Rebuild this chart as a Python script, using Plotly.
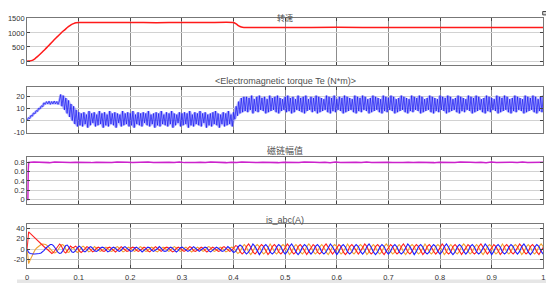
import numpy as np
import plotly.graph_objects as go

# ---------------- data ----------------
# Panel 1: speed (rpm)
speed_t = [0, 0.005, 0.01, 0.015, 0.02, 0.025, 0.03, 0.035, 0.04, 0.045, 0.05, 0.055,
           0.06, 0.065, 0.07, 0.075, 0.08, 0.085, 0.09, 0.095, 0.1, 0.15, 0.2, 0.25,
           0.3, 0.35, 0.4, 0.405, 0.41, 0.415, 0.42, 0.5, 0.6, 0.7, 0.8, 0.9, 1.0]
speed_v = [0, 5, 25, 80, 155, 240, 330, 420, 515, 610, 705, 800,
           890, 980, 1065, 1145, 1220, 1285, 1330, 1358, 1366, 1365, 1368, 1364,
           1367, 1365, 1365, 1320, 1250, 1210, 1195, 1193, 1196, 1194, 1193, 1195, 1194]

# Panel 2: electromagnetic torque (N*m), samples every 0.0025 s
torque_start = [0, 2.5, 1.5, 4.5, 3.5, 6.5, 5.5, 8.5, 7.5, 10.5, 9.5, 12.5, 11.5, 15, 13.5,
                16, 14, 16.5, 13.5, 16, 14, 16.5, 14, 16, 13.5, 16.5,
                22, 12, 21, 9, 19, 6, 17, 3, 14, 0, 12, -3, 9, -5, 7]
torque_mid = [-4, 6, -5, 7, -3, 5, -6, 8, -4, 6, -2, 7, -5, 5, -4, 8, -3, 6, -6, 7,
              -4, 5, -5, 8, -3, 6, -4, 7, -6, 6, -2, 5, -5, 8, -4, 6, -3, 7, -5, 6,
              -4, 8, -6, 5, -3, 7, -4, 6, -5, 7, -2, 6, -4, 8, -5, 5, -3, 6, -6, 7,
              -4, 6, -5, 8, -3, 5, -4, 7, -5, 6, -3, 8, -6, 6, -4, 5, -2, 7, -5, 6,
              -4, 7, -3, 6, -6, 8, -4, 5, -5, 7, -3, 6, -4, 8, -5, 6, -2, 7, -6, 5,
              -4, 6, -5, 7, -3, 8, -4, 6, -6, 5, -3, 7, -5, 6, -4, 8, -3, 5, -5, 7]
torque_rise = [1, 12, 4, 16, 6, 19, 7, 20]
torque_end = [8, 20, 7, 19, 9, 21, 6, 18, 8, 20, 7, 21, 9, 19, 8, 20, 6, 18, 7, 21,
              8, 19, 9, 20, 7, 21, 6, 19, 8, 18, 9, 20, 7, 21, 8, 19, 6, 20, 7, 18,
              9, 21, 8, 19, 7, 20, 6, 21, 8, 18, 9, 20, 7, 19, 8, 21, 6, 20, 7, 19,
              8, 18, 9, 21, 7, 20, 6, 19, 8, 21, 7, 18, 9, 20, 8, 19, 6, 21, 7, 20,
              8, 19, 9, 18, 7, 21, 6, 20, 8, 19, 7, 21, 9, 20, 8, 18, 6, 19, 7, 21,
              8, 20, 9, 19, 7, 18, 6, 21, 8, 20, 7, 19, 9, 21, 8, 20, 6, 18, 7, 19,
              8, 21, 9, 20, 7, 19, 6, 18, 8, 21, 7, 20, 9, 19, 8, 21, 6, 20, 7, 18,
              8, 19, 9, 21, 7, 20, 6, 19, 8, 18, 7, 21, 9, 20, 8, 19, 6, 21, 7, 20,
              8, 18, 9, 19, 7, 21, 6, 20, 8, 19, 7, 18, 9, 21, 8, 20, 6, 19, 7, 21,
              8, 20, 9, 18, 7, 19, 6, 21, 8, 20, 7, 19, 9, 18, 8, 21, 6, 20, 7, 19,
              8, 21, 9, 20, 7, 18, 6, 19, 8, 21, 7, 20, 9, 19, 8, 18, 6, 21, 7, 20,
              8, 19, 9, 21, 7, 20, 6, 18, 8, 20, 7, 21]

# Panel 3: flux magnitude (Wb)
flux_t_start = [0, 0.0015, 0.0022]
flux_v_start = [0, 0, 0.62]
flux_steady = [0.800, 0.806, 0.797, 0.804, 0.795, 0.806, 0.799, 0.805, 0.796, 0.803,
               0.798, 0.806, 0.795, 0.804, 0.799, 0.805, 0.796, 0.806, 0.797, 0.803,
               0.799, 0.805, 0.795, 0.806, 0.798, 0.804, 0.796, 0.805, 0.797, 0.806,
               0.795, 0.804, 0.799, 0.805, 0.796, 0.806, 0.798, 0.803, 0.795, 0.805,
               0.797, 0.806, 0.799, 0.804, 0.796, 0.805, 0.798, 0.806, 0.795, 0.804,
               0.799, 0.805, 0.796, 0.806, 0.797, 0.803, 0.798, 0.805, 0.795, 0.806,
               0.797, 0.804, 0.799, 0.805, 0.796, 0.806, 0.798, 0.803, 0.795, 0.805,
               0.797, 0.806, 0.799, 0.804, 0.796, 0.805, 0.798, 0.806, 0.795, 0.804,
               0.799, 0.805, 0.796, 0.806, 0.797, 0.803, 0.798, 0.805, 0.795, 0.806,
               0.797, 0.804, 0.799, 0.805, 0.796, 0.806, 0.798, 0.803, 0.795, 0.805]

# Panel 4: stator currents (A)
# start-up transient, samples every 0.003 s from 0
ia_transient = [0, 33, 30, 27, 24, 21, 18, 15, 12, 9, 6, 4, 2, 0, -3, -6, -8, -6, -2, 3,
                8, 10, 7, 1, -5, -7, -3, 3, 6, 4]
ib_transient = [0, -6, -8, -9, -9, -9, -9, -9, -8, -7, -5, -2, 2, 5, 8, 9, 9, 7, 3, -2,
                -6, -8, -7, -3, 2, 7, 8, 4, -2, -5]
ic_transient = [0, -27, -20, -13, -7, -2, 2, 5, 7, 9, 10, 10, 9, 7, 4, 0, -4, -6, -7, -5,
                -1, 4, 8, 9, 6, 0, -5, -6, -2, 3]
# 0.09 s .. 0.40 s (light load)
ia_light = [3, 6, 3, -3, -6, -3, 2, 5, 3, -2, -5, -3, 2, 4, 2, -3, -4, -2, 3, 4, 1, -2, -5, -2,
            2, 5, 2, -2, -4, -3, 2, 4, 3, -2, -4, -2, 1, 4, 2, -3, -5, -2, 2, 5, 2, -2, -4, -1,
            3, 4, 2, -2, -5, -3, 2, 4, 1, -2, -4, -2, 2, 5, 3, -3, -4, -2, 1, 4, 2, -2, -5, -2,
            2, 4, 2, -2, -4, -3, 3, 5, 2, -2, -4, -2]
ib_light = [-6, -3, 3, 6, 3, -3, -5, -2, 3, 5, 2, -3, -4, -2, 2, 4, 3, -2, -5, -3, 2, 4, 2, -2,
            -4, -2, 3, 5, 2, -2, -4, -3, 2, 4, 2, -1, -5, -2, 2, 4, 3, -2, -4, -2, 1, 5, 2, -3,
            -4, -3, 2, 4, 2, -2, -5, -2, 3, 4, 1, -2, -4, -2, 2, 5, 2, -2, -4, -1, 2, 4, 3, -3,
            -5, -2, 2, 4, 2, -2, -4, -3, 2, 5, 2, -2]
ic_light = [3, -3, -6, -3, 3, 6, 3, -2, -5, -3, 2, 5, 2, -2, -4, -2, 2, 4, 2, -3, -4, -2, 3, 5,
            2, -2, -5, -3, 2, 4, 1, -2, -4, -2, 2, 5, 3, -2, -4, -3, 2, 4, 2, -3, -5, -2, 2, 4,
            2, -2, -4, -2, 3, 5, 2, -2, -4, -3, 2, 4, 1, -3, -5, -2, 2, 4, 2, -2, -4, -2, 3, 5,
            3, -2, -4, -2, 2, 4, 2, -2, -5, -3, 2, 4]
# 0.40 s .. 1.0 s (loaded)
ia_load = [3, 7, 5, -4, -9, -5, 5, 10, 4, -5, -9, -4, 4, 9, 5, -4, -10, -5, 5, 9, 4, -5, -9, -4,
           4, 10, 5, -4, -9, -5, 5, 9, 4, -4, -10, -4, 4, 9, 5, -5, -9, -5, 5, 10, 4, -4, -9, -4,
           4, 9, 5, -5, -10, -5, 5, 9, 4, -4, -9, -4, 4, 10, 5, -4, -9, -5, 5, 9, 4, -5, -10, -4,
           4, 9, 5, -4, -9, -5, 5, 10, 4, -5, -9, -4, 4, 9, 5, -4, -10, -5, 5, 9, 4, -4, -9, -4,
           4, 10, 5, -5, -9, -5, 5, 9, 4, -4, -10, -4, 4, 9, 5, -5, -9, -5, 5, 10, 4, -4, -9, -4,
           4, 9, 5, -4, -10, -5, 5, 9, 4, -5, -9, -4, 4, 10, 5, -4, -9, -5, 5, 9, 4, -5, -10, -4,
           4]
ib_load = [-6, -4, 4, 8, 5, -4, -9, -5, 4, 10, 5, -4, -10, -4, 5, 9, 4, -5, -9, -5, 4, 9, 5, -4,
           -9, -4, 5, 10, 4, -5, -10, -5, 4, 9, 5, -4, -9, -4, 5, 9, 4, -5, -9, -5, 4, 10, 5, -4,
           -10, -4, 5, 9, 4, -5, -9, -5, 4, 9, 5, -4, -9, -4, 5, 10, 4, -5, -10, -5, 4, 9, 5, -4,
           -9, -4, 5, 9, 4, -5, -9, -5, 4, 10, 5, -4, -10, -4, 5, 9, 4, -5, -9, -5, 4, 9, 5, -4,
           -9, -4, 5, 10, 4, -5, -10, -5, 4, 9, 5, -4, -9, -4, 5, 9, 4, -5, -9, -5, 4, 10, 5, -4,
           -10, -4, 5, 9, 4, -5, -9, -5, 4, 9, 5, -4, -9, -4, 5, 10, 4, -5, -10, -5, 4, 9, 5, -4,
           -9]
ic_load = [3, -3, -8, -5, 4, 9, 4, -5, -10, -4, 5, 9, 5, -4, -9, -5, 4, 10, 4, -5, -9, -4, 5, 9,
           5, -4, -10, -5, 4, 9, 4, -5, -9, -4, 5, 10, 5, -4, -9, -5, 4, 9, 4, -5, -10, -4, 5, 9,
           5, -4, -9, -5, 4, 10, 4, -5, -9, -4, 5, 9, 5, -4, -10, -5, 4, 9, 4, -5, -9, -4, 5, 10,
           5, -4, -9, -5, 4, 9, 4, -5, -10, -4, 5, 9, 5, -4, -9, -5, 4, 10, 4, -5, -9, -4, 5, 9,
           5, -4, -10, -5, 4, 9, 4, -5, -9, -4, 5, 10, 5, -4, -9, -5, 4, 9, 4, -5, -10, -4, 5, 9,
           5, -4, -9, -5, 4, 10, 4, -5, -9, -4, 5, 9, 5, -4, -10, -5, 4, 9, 4, -5, -9, -4, 5, 10,
           5]

x_ticks = [0, 0.1, 0.2, 0.3, 0.4, 0.5, 0.6, 0.7, 0.8, 0.9, 1.0]
x_labels = ["0", "0.1", "0.2", "0.3", "0.4", "0.5", "0.6", "0.7", "0.8", "0.9", "1"]
y1_ticks, y1_labels = [0, 500, 1000, 1500], ["0", "500", "1000", "1500"]
y2_ticks, y2_labels = [-10, 0, 10, 20], ["-10", "0", "10", "20"]
y3_ticks, y3_labels = [0, 0.2, 0.4, 0.6, 0.8], ["0", "0.2", "0.4", "0.6", "0.8"]
y4_ticks, y4_labels = [-20, 0, 20, 40], ["-20", "0", "20", "40"]

titles = ["转速", "&lt;Electromagnetic torque Te (N*m)&gt;", "磁链幅值", "is_abc(A)"]

# ---------------- build sample times ----------------
torque = torque_start + torque_mid + torque_rise + torque_end
torque_t = np.linspace(0, 1, len(torque))
tq = np.array(torque, dtype=float)
tq_pad = np.concatenate([[tq[0]], tq, [tq[-1]]])
tq_hi = np.maximum(np.maximum(tq_pad[:-2], tq_pad[1:-1]), tq_pad[2:])
tq_lo = np.minimum(np.minimum(tq_pad[:-2], tq_pad[1:-1]), tq_pad[2:])

flux_t = flux_t_start + list(np.linspace(0.003, 1.0, len(flux_steady)))
flux_v = flux_v_start + flux_steady


def phase_time(tr, li, lo):
    t1 = list(np.arange(len(tr)) * 0.003)
    t2 = list(np.linspace(0.09, 0.40, len(li), endpoint=False))
    t3 = list(np.linspace(0.40, 1.0, len(lo)))
    return t1 + t2 + t3, tr + li + lo


ia_t, ia = phase_time(ia_transient, ia_light, ia_load)
ib_t, ib = phase_time(ib_transient, ib_light, ib_load)
ic_t, ic = phase_time(ic_transient, ic_light, ic_load)

# ---------------- figure ----------------
OFF = 8                      # page body margin (px)
W, H = 554 - OFF, 287 - OFF  # figure size so that it fills the window exactly


def px_x(p):
    return (p - OFF) / W


def px_y(p):
    return 1 - (p - OFF) / H


x0, x1 = px_x(18.3), px_x(545.3)


def ydom(top, bot):
    return [px_y(bot), px_y(top)]


doms = [ydom(15, 63.3), ydom(86, 133.3), ydom(157.3, 206), ydom(226, 271.7)]
ranges = [[-138, 1535], [-10.6, 28.2], [-0.099, 0.926], [-35.5, 48.6]]
yt = [(y1_ticks, y1_labels), (y2_ticks, y2_labels), (y3_ticks, y3_labels), (y4_ticks, y4_labels)]
title_px = [None, 80, 151, 222.5]
title_size = [8, 9, 9, 9]

fig = go.Figure()

fig.add_trace(go.Scatter(x=speed_t, y=speed_v, mode="lines", xaxis="x", yaxis="y",
                         line=dict(color="#ff1a1a", width=1.5, shape="spline", smoothing=0.6),
                         showlegend=False))
fig.add_trace(go.Scatter(x=torque_t, y=tq_lo, mode="lines", xaxis="x2", yaxis="y2",
                         line=dict(color="rgba(0,0,0,0)", width=0), showlegend=False,
                         hoverinfo="skip"))
fig.add_trace(go.Scatter(x=torque_t, y=tq_hi, mode="lines", xaxis="x2", yaxis="y2",
                         line=dict(color="rgba(0,0,0,0)", width=0), fill="tonexty",
                         fillcolor="rgba(120,120,255,0.6)", showlegend=False,
                         hoverinfo="skip"))
fig.add_trace(go.Scatter(x=torque_t, y=torque, mode="lines", xaxis="x2", yaxis="y2",
                         line=dict(color="#1010f0", width=0.65), showlegend=False))
fig.add_trace(go.Scatter(x=flux_t, y=flux_v, mode="lines", xaxis="x3", yaxis="y3",
                         line=dict(color="#cc22cc", width=1.5), showlegend=False))
fig.add_trace(go.Scatter(x=ic_t, y=ic, mode="lines", xaxis="x4", yaxis="y4",
                         line=dict(color="#f0a030", width=1.1), showlegend=False))
fig.add_trace(go.Scatter(x=ia_t, y=ia, mode="lines", xaxis="x4", yaxis="y4",
                         line=dict(color="#ff2020", width=1.1), showlegend=False))
fig.add_trace(go.Scatter(x=ib_t, y=ib, mode="lines", xaxis="x4", yaxis="y4",
                         line=dict(color="#2020ff", width=1.1), showlegend=False))

tick_font = dict(family="Liberation Sans, Arial", size=7.5, color="#333333")
layout = dict(width=W, height=H, margin=dict(l=0, r=0, t=0, b=0),
              paper_bgcolor="white", plot_bgcolor="white", showlegend=False)
annotations = []
for i in range(4):
    sx = "" if i == 0 else str(i + 1)
    layout["xaxis" + sx] = dict(
        domain=[x0, x1], range=[0, 1.0004], anchor="y" + sx,
        tickvals=x_ticks, ticktext=x_labels, showticklabels=(i == 3),
        ticklabeloverflow="allow", ticklabelstandoff=2,
        showgrid=True, gridcolor="#8c8c8c", gridwidth=1, zeroline=False,
        ticks="inside", ticklen=3, tickcolor="#444444", mirror="ticks",
        showline=True, linecolor="#777777", linewidth=1, tickfont=tick_font)
    tv, tl = yt[i]
    layout["yaxis" + sx] = dict(
        domain=doms[i], range=ranges[i], anchor="x" + sx,
        tickvals=tv, ticktext=tl, showgrid=True, gridcolor="#d2d2d2", gridwidth=1,
        ticklabeloverflow="allow",
        zeroline=False, ticks="inside", ticklen=3, tickcolor="#444444", mirror="ticks",
        showline=True, linecolor="#777777", linewidth=1, tickfont=tick_font)
    fam = "Noto Sans CJK SC" if i in (0, 2) else "Liberation Sans, Arial"
    if title_px[i] is None:
        ty, yanc = 1.0, "top"       # top title: as high as the page allows
    else:
        ty, yanc = px_y(title_px[i]), "middle"
    annotations.append(dict(text=titles[i], x=(x0 + x1) / 2, y=ty, borderpad=0,
                            xref="paper", yref="paper", xanchor="center", yanchor=yanc,
                            showarrow=False,
                            font=dict(family=fam, size=title_size[i], color="#505050")))
layout["annotations"] = annotations
layout["shapes"] = [
    dict(type="rect", xref="paper", yref="paper", x0=0, x1=1, y0=0, y1=3.5 / H,
         fillcolor="#e6e6e6", line=dict(width=0), layer="below"),
    dict(type="rect", xref="paper", yref="paper", x0=px_x(544.5), x1=px_x(549.5),
         y0=px_y(12), y1=px_y(8.5), fillcolor="#d8d8d8",
         line=dict(color="#444444", width=1)),
]
fig.update_layout(**layout)

fig.write_html("out.html")
